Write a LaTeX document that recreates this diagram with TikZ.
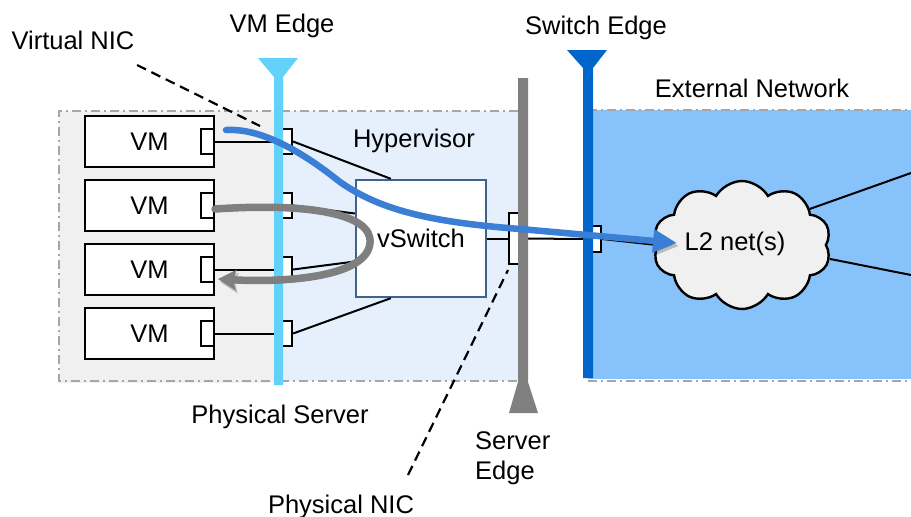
\documentclass[tikz,border=0pt]{standalone}
\usepackage{fontspec}
\setmainfont{Liberation Sans}
\usetikzlibrary{shapes.symbols,arrows.meta}
\definecolor{srvgray}{HTML}{F0F0F0}
\definecolor{hyperblue}{HTML}{E5F0FC}
\definecolor{extblue}{HTML}{88C2FA}
\definecolor{vmedge}{HTML}{63D2FB}
\definecolor{swedge}{HTML}{0066CC}
\definecolor{srvedge}{HTML}{808080}
\definecolor{vsborder}{HTML}{3F6290}
\definecolor{flowblue}{HTML}{3A7FD5}
\definecolor{loopgray}{HTML}{7F7F7F}
\definecolor{dashgray}{HTML}{A6A6A6}
\definecolor{cloudfill}{HTML}{F0F0F0}
\begin{document}
\begin{tikzpicture}[x=1pt,y=-1pt,
  font=\fontsize{25.5}{30}\selectfont,
  vmbox/.style={draw, line width=2.4pt, fill=white, minimum width=129pt, minimum height=51pt, inner sep=0pt},
  vnic/.style={draw, line width=2.2pt, fill=white, minimum width=13pt, minimum height=25pt, inner sep=0pt},
  enic/.style={vnic, minimum width=16pt},
  link/.style={line width=2pt},
  dashdot/.style={draw=dashgray, line width=2pt, dash pattern=on 9pt off 4pt on 2pt off 4pt},
  lbl/.style={inner sep=0pt, anchor=base},
  callout/.style={line width=2.2pt, dash pattern=on 10pt off 6pt},
  shadowed/.style={preaction={draw=black, opacity=0.22, transform canvas={shift={(2pt,-3pt)}}}}
]
\useasboundingbox (0,0) rectangle (911,517);

% regions
\fill[srvgray] (59,111) rectangle (278,383);
\fill[hyperblue] (278,111) rectangle (518,381);
\draw[dashdot] (518,111) -- (59,111) -- (59,381) -- (518,381);
\fill[extblue] (588,110) rectangle (920,379);
\draw[dashdot] (588,110) -- (920,110);
\draw[dashdot] (588,381) -- (920,381);

% VMs and NICs
\foreach \i/\y in {1/141.5,2/205.5,3/269.5,4/333.5}{
  \node[vmbox] (vm\i) at (149.5,\y) {VM};
  \node[vnic] (vn\i) at (207.5,\y) {};
  \node[enic] (en\i) at (284,\y) {};
}
\node[draw=vsborder, line width=2.4pt, fill=white, minimum width=130pt, minimum height=117pt, inner sep=0pt] (vs) at (421,238.5) {};
\node[vnic, minimum width=13pt, minimum height=51pt] (pn) at (515.5,238.5) {};
\node[vnic, minimum width=14pt, minimum height=26pt] (sn) at (594,239) {};
\node[cloud, draw, line width=2.4pt, fill=cloudfill, cloud puffs=10, cloud puff arc=120, aspect=1.4, minimum width=178pt, minimum height=128pt, inner sep=0pt] (cl) at (742,245) {};

% connectors
\foreach \i in {1,...,4}{ \draw[link] (vn\i.east) -- (en\i.west); }
\draw[link] (en1.east) -- ([xshift=36pt]vs.north west);
\draw[link] (en2.east) -- ([yshift=25pt]vs.west);
\draw[link] (en3.east) -- ([yshift=-23pt]vs.west);
\draw[link] (en4.east) -- ([xshift=36pt]vs.south west);
\draw[link] (vs.east) -- (pn.west);
\draw[link] (pn.east) -- (sn.west);
\draw[link] (sn.east) -- (cl.west);
\coordinate (r1) at (911,173);
\coordinate (r2) at (911,275);
\draw[link] (cl.28) -- (r1);
\draw[link] (cl.-9) -- (r2);

% edges (bars)
\fill[vmedge] (258,58) -- (298,58) -- (283,77) -- (283,385) -- (274,385) -- (274,77) -- cycle;
\fill[swedge] (567,50) -- (607,50) -- (593,68) -- (593,378) -- (583,378) -- (583,68) -- cycle;
\fill[srvedge] (518,78) -- (528,78) -- (528,382) -- (538,413) -- (509,413) -- (518,382) -- cycle;

% callouts
\coordinate (vnA) at (137,65);
\coordinate (vnB) at (260,126);
\draw[callout] (vnA) -- (vnB);
\coordinate (pnA) at (408,475);
\coordinate (pnB) at (508,270);
\draw[callout] (pnA) -- (pnB);

% flows
\coordinate (fs) at (226,130);
\coordinate (fe) at (677,243);
\draw[flowblue, line width=6.5pt, line cap=round, shadowed, -{Triangle[length=24pt,width=22pt]}]
  (fs) .. controls (260,128) and (300,150) .. (340,182)
       .. controls (380,210) and (430,222) .. (520,229) -- (fe);
\coordinate (ls) at (215,209);
\coordinate (le) at (218,279);
\draw[loopgray, line width=7.5pt, line cap=round, shadowed, -{Stealth[length=18pt,width=20pt,inset=3pt]}]
  (ls) .. controls (302,203) and (373,212) .. (370,243)
       .. controls (367,276) and (290,283) .. (le);

% labels
\node[lbl] (tvnic) at (73,49) {Virtual NIC};
\node[lbl] (tvmedge) at (282,32) {VM Edge};
\node[lbl] (tswedge) at (596,34) {Switch Edge};
\node[lbl] (text) at (752,97) {External Network};
\node[lbl] (thyp) at (414,147) {Hypervisor};
\node[lbl] (tvs) at (421,247) {vSwitch};
\node[lbl] (tl2) at (735,250) {L2 net(s)};
\node[lbl] (tps) at (280,423) {Physical Server};
\node[inner sep=0pt, align=left, anchor=north west] (tse) at (475,431) {Server\\Edge};
\node[lbl] (tpn) at (341,513) {Physical NIC};
\end{tikzpicture}
\end{document}
